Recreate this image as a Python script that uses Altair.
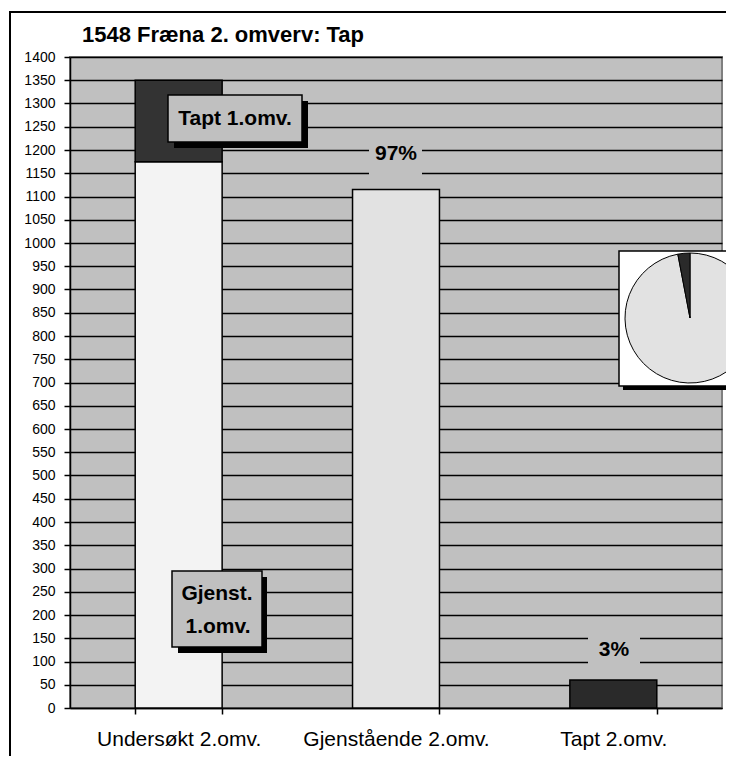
import altair as alt
import pandas as pd

# ---- data ----
bar_categories = ["Undersøkt 2.omv.", "Undersøkt 2.omv.", "Gjenstående 2.omv.", "Tapt 2.omv."]
bar_segments = ["Gjenst. 1.omv.", "Tapt 1.omv.", "Gjenstående 2.omv.", "Tapt 2.omv."]
bar_values = [1175, 175, 1115, 60]
bar_order = [1, 2, 1, 1]

category_order = ["Undersøkt 2.omv.", "Gjenstående 2.omv.", "Tapt 2.omv."]
y_ticks = list(range(0, 1401, 50))

pie_segments = ["Gjenstående 2.omv.", "Tapt 2.omv."]
pie_share = [97, 3]
pie_order = [1, 2]

seg_domain = ["Gjenst. 1.omv.", "Tapt 1.omv.", "Gjenstående 2.omv.", "Tapt 2.omv."]
seg_colors = ["#f3f3f3", "#333333", "#e2e2e2", "#2a2a2a"]

title_text = "1548 Fræna 2. omverv: Tap"
pct_labels = ["97%", "3%"]

FONT = "Liberation Sans"

bars_df = pd.DataFrame({
    "category": bar_categories,
    "segment": bar_segments,
    "value": bar_values,
    "ord": bar_order,
})
pie_df = pd.DataFrame({"segment": pie_segments, "share": pie_share, "ord": pie_order})
one = pd.DataFrame({"k": [0]})

fill_scale = alt.Scale(domain=seg_domain, range=seg_colors)

# outer chart border (top and left edges; the rest lies outside the page)
border_top = alt.Chart(one).mark_rule(stroke="black", strokeWidth=2).encode(
    x=alt.value(-61), x2=alt.value(700), y=alt.value(-45)
)
border_left = alt.Chart(one).mark_rule(stroke="black", strokeWidth=2).encode(
    x=alt.value(-60), y=alt.value(-46), y2=alt.value(760)
)

bars = alt.Chart(bars_df).mark_bar(stroke="black", strokeWidth=1.5).encode(
    x=alt.X(
        "category:N",
        sort=category_order,
        scale=alt.Scale(paddingInner=0.6, paddingOuter=0.3),
        axis=alt.Axis(
            title=None, labelAngle=0, labelFontSize=21, labelFont=FONT, labelColor="black",
            labelLimit=400,
            tickBand="extent", tickSize=6, tickColor="black", tickWidth=1.5,
            domainColor="black", domainWidth=1.5, labelPadding=14, grid=False,
        ),
    ),
    y=alt.Y(
        "value:Q",
        stack="zero",
        scale=alt.Scale(domain=[0, 1400], nice=False),
        axis=alt.Axis(
            title=None, values=y_ticks, format="d", labelFontSize=14, labelFont=FONT,
            labelColor="black", tickSize=6, tickColor="black", tickWidth=1.5,
            domainColor="black", domainWidth=1.5, gridColor="black", gridWidth=1.6,
            labelPadding=9,
        ),
    ),
    fill=alt.Fill("segment:N", scale=fill_scale, legend=None),
    order=alt.Order("ord:Q"),
)

def box(x1, x2, y1, y2, fill="#c0c0c0", stroke=None, sw=1.5):
    kw = dict(fill=fill)
    if stroke:
        kw.update(stroke=stroke, strokeWidth=sw)
    else:
        kw.update(strokeWidth=0)
    return alt.Chart(one).mark_rect(**kw).encode(
        x=alt.value(x1), x2=alt.value(x2), y=alt.value(y1), y2=alt.value(y2)
    )

def label(text, x, y, size=21, weight="bold"):
    return alt.Chart(one).mark_text(
        text=text, font=FONT, fontSize=size, fontWeight=weight, color="black",
        align="center", baseline="middle",
    ).encode(x=alt.value(x), y=alt.value(y))

title = alt.Chart(one).mark_text(
    text=title_text, font=FONT, fontSize=22, fontWeight="bold", color="black",
    align="left", baseline="alphabetic",
).encode(x=alt.value(12), y=alt.value(-15))

# "Tapt 1.omv." callout
tapt1_shadow = box(104, 238, 44, 91, fill="black")
tapt1_box = box(98, 232, 38, 85, stroke="black")
tapt1_text = label("Tapt 1.omv.", 165, 62)

# "Gjenst. 1.omv." callout
gj_shadow = box(108, 197, 520, 596, fill="black")
gj_box = box(102, 192, 514, 590, stroke="black")
gj_text1 = label("Gjenst.", 147, 537)
gj_text2 = label("1.omv.", 148, 570)

# percentage labels
p97_box = box(299, 352, 80, 120)
p97_text = label(pct_labels[0], 326, 97)
p3_box = box(518, 570, 577, 609)
p3_text = label(pct_labels[1], 544, 593)

# pie inset
pie_shadow = box(553, 700, 199, 333, fill="black")
pie_box = box(549, 700, 194, 329, fill="white", stroke="black")
pie = alt.Chart(pie_df).mark_arc(radius=65, stroke="black", strokeWidth=1).encode(
    theta=alt.Theta("share:Q", stack=True),
    fill=alt.Fill("segment:N", scale=fill_scale, legend=None),
    order=alt.Order("ord:Q"),
    x=alt.value(620),
    y=alt.value(261),
)

chart = alt.layer(
    border_top, border_left, bars, title,
    tapt1_shadow, tapt1_box, tapt1_text,
    gj_shadow, gj_box, gj_text1, gj_text2,
    p97_box, p97_text, p3_box, p3_text,
    pie_shadow, pie_box, pie,
).properties(
    width=652, height=651,
    autosize=alt.AutoSizeParams(type="none"),
    padding={"left": 62, "top": 49, "right": 4, "bottom": 48},
    background="white",
).configure_view(
    fill="#c0c0c0", stroke="#808080", strokeWidth=2
)

chart.save("out.html", embed_options={"renderer": "svg", "actions": False})
